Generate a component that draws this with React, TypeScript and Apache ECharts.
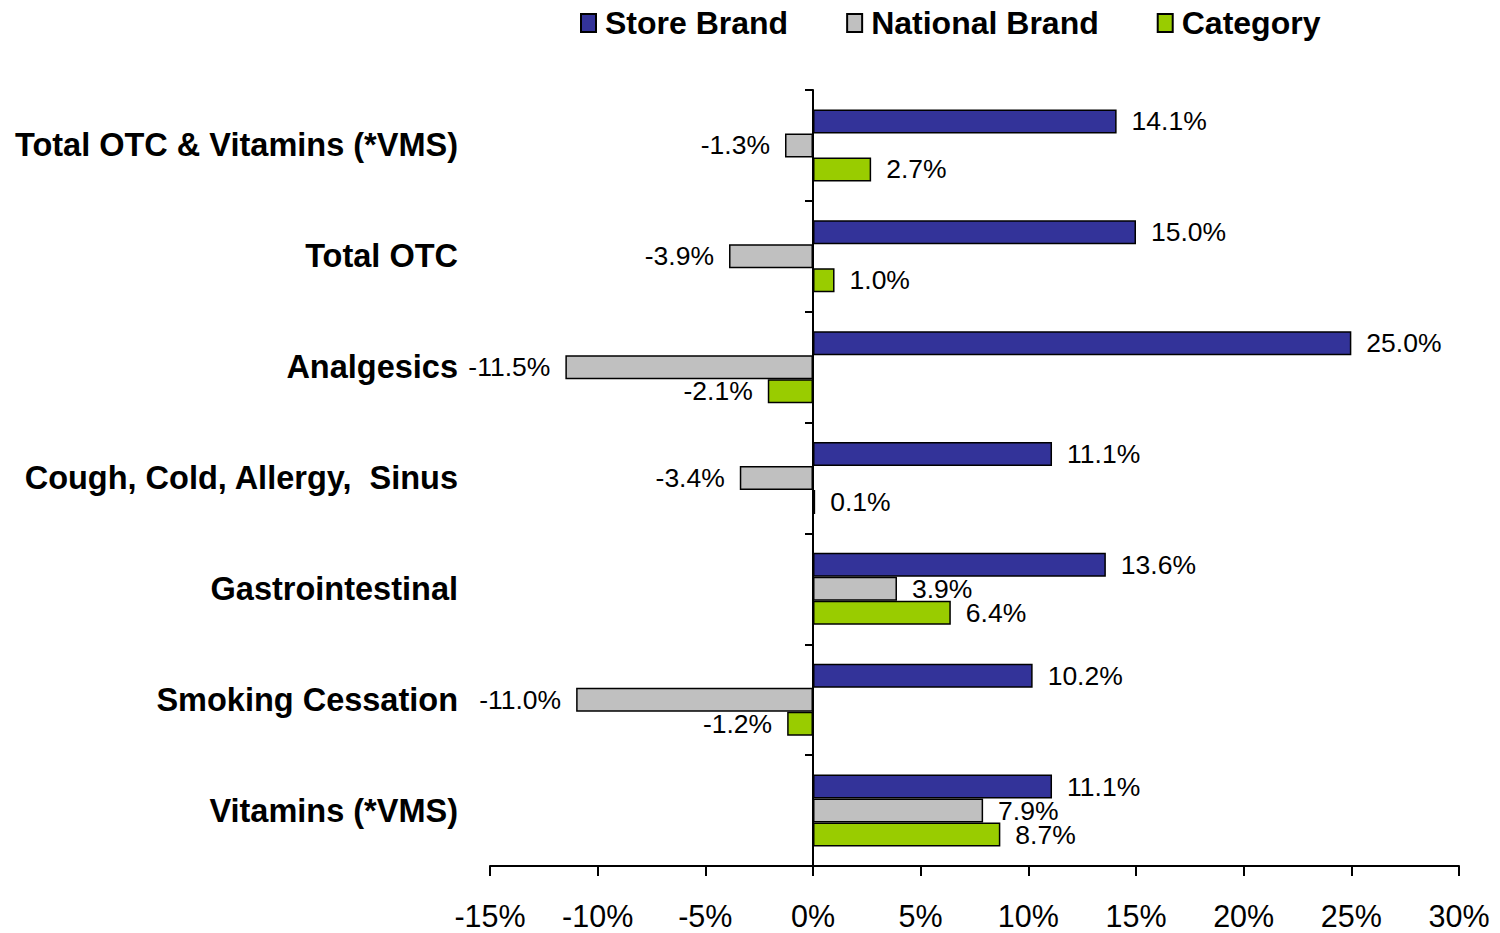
import React, { useEffect, useRef } from "react";
import * as echarts from "echarts";

const categories = [
  "Total OTC & Vitamins (*VMS)",
  "Total OTC",
  "Analgesics",
  "Cough, Cold, Allergy,  Sinus",
  "Gastrointestinal",
  "Smoking Cessation",
  "Vitamins (*VMS)",
];
const storeBrand = [14.1, 15.0, 25.0, 11.1, 13.6, 10.2, 11.1];
const nationalBrand = [-1.3, -3.9, -11.5, -3.4, 3.9, -11.0, 7.9];
const categoryValues = [2.7, 1.0, -2.1, 0.1, 6.4, -1.2, 8.7];

const seriesNames = ["Store Brand", "National Brand", "Category"];
const seriesColors = ["#333399", "#C0C0C0", "#99CC00"];

const FONT = "'Liberation Sans', Arial, sans-serif";

function toItems(values: number[]) {
  return values.map((v) => ({
    value: v,
    label: { position: v < 0 ? "left" : "right" },
  }));
}

export default function App() {
  const ref = useRef<HTMLDivElement>(null);
  useEffect(() => {
    if (!ref.current) return;
    const chart = echarts.init(ref.current, null, { renderer: "svg" });
    const allValues = [storeBrand, nationalBrand, categoryValues];
    chart.setOption({
      animation: false,
      backgroundColor: "#ffffff",
      textStyle: { fontFamily: FONT },
      legend: {
        left: 575,
        top: 2,
        itemGap: 58,
        itemWidth: 15,
        itemHeight: 18,
        icon: "rect",
        textStyle: {
          fontFamily: FONT,
          fontSize: 32,
          fontWeight: "bold",
          color: "#000",
          padding: [0, 0, 0, 4],
        },
        data: seriesNames,
      },
      grid: {
        left: 490,
        right: 41,
        top: 90,
        bottom: 67,
        containLabel: false,
        outerBoundsMode: "none",
      },
      xAxis: {
        type: "value",
        min: -15,
        max: 30,
        interval: 5,
        axisLine: { show: true, onZero: false, lineStyle: { color: "#000", width: 2 } },
        axisTick: { show: true, length: 10, lineStyle: { color: "#000", width: 2 } },
        splitLine: { show: false },
        axisLabel: {
          formatter: "{value}%",
          fontFamily: FONT,
          fontSize: 30.5,
          lineHeight: 30,
          color: "#000",
          margin: 35,
        },
      },
      yAxis: {
        type: "category",
        inverse: true,
        data: categories,
        axisLine: { show: true, onZero: true, lineStyle: { color: "#000", width: 2 } },
        axisTick: { show: true, length: 8, lineStyle: { color: "#000", width: 2 } },
        axisLabel: {
          fontFamily: FONT,
          fontSize: 32.5,
          fontWeight: "bold",
          color: "#000",
          margin: 32,
        },
      },
      series: seriesNames.map((name, i) => ({
        name,
        type: "bar",
        data: toItems(allValues[i]),
        barWidth: 24,
        barGap: "0%",
        itemStyle: { color: seriesColors[i], borderColor: "#000", borderWidth: 1.5 },
        label: {
          show: true,
          distance: 15,
          fontFamily: FONT,
          fontSize: 26.5,
          lineHeight: 22,
          color: "#000",
          formatter: (p: any) => Number(p.value).toFixed(1) + "%",
        },
      })),
    });
    return () => chart.dispose();
  }, []);
  return (
    <div
      ref={ref}
      style={{ position: "absolute", left: 0, top: 0, width: 1500, height: 933 }}
    />
  );
}
